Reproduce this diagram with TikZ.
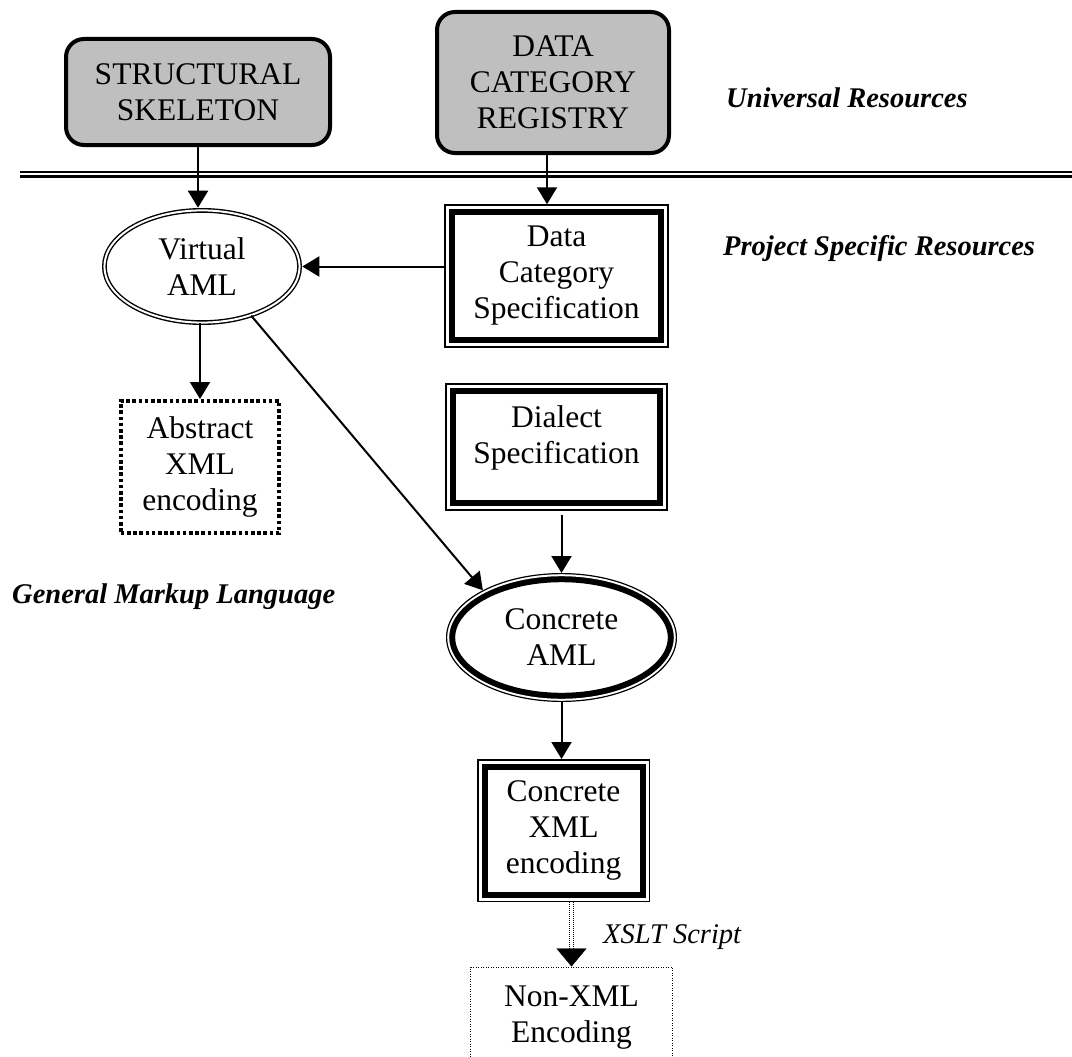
\documentclass[tikz,border=0pt]{standalone}
\usepackage{fontspec}
\setmainfont{Liberation Serif}
\usetikzlibrary{arrows.meta}
\usetikzlibrary{shapes.geometric}
\usetikzlibrary{calc}

\begin{document}
\begin{tikzpicture}[x=1pt, y=-1pt,
    txt/.style={align=center, inner sep=0pt, font=\fontsize{31.5}{36}\selectfont},
    lbl/.style={anchor=base west, inner sep=0pt, font=\fontsize{28.5}{34}\selectfont\bfseries\itshape},
    arr/.style={line width=2pt, -{Triangle[width=20pt, length=17pt]}},
    resbox/.style={txt, draw, line width=4pt, rounded corners=18pt, fill=gray!50},
    specbox/.style={txt, draw, line width=1.5pt, path picture={
        \draw[line width=19.5pt] (path picture bounding box.south west) rectangle (path picture bounding box.north east);
        \draw[white, line width=7.5pt] (path picture bounding box.south west) rectangle (path picture bounding box.north east);}},
    amlring/.style={txt, ellipse, draw, line width=1.2pt, path picture={
        \draw[line width=17.2pt] let \p1=(path picture bounding box.north east), \p2=(path picture bounding box.center) in (\p2) ellipse ({\x1-\x2} and {\y1-\y2});
        \draw[white, line width=5.2pt] let \p1=(path picture bounding box.north east), \p2=(path picture bounding box.center) in (\p2) ellipse ({\x1-\x2} and {\y1-\y2});}},
    amldouble/.style={txt, ellipse, draw, double, line width=1.4pt, double distance=2pt},
    absbox/.style={txt, draw, line width=3.6pt, dash pattern=on 3.6pt off 2.6pt},
    encbox/.style={txt, draw, line width=1pt, dash pattern=on 1pt off 1.5pt},
    xslt/.style={draw, double, line width=1pt, double distance=2.5pt, dash pattern=on 1pt off 1pt},
    sep/.style={draw, double, line width=2.5pt, double distance=2pt}]

    \useasboundingbox (0,0) rectangle (1072,1057);

    \node[resbox, minimum width=264, minimum height=106] (skel) at (198,92) {STRUCTURAL\\SKELETON};
    \node[resbox, minimum width=232, minimum height=141] (dcr) at (553,82.5) {DATA\\CATEGORY\\REGISTRY};

    \coordinate (sepL) at (20,174);
    \coordinate (sepR) at (1072,174);
    \draw[sep] (sepL) -- (sepR);

    \node[amldouble, minimum width=195.2, minimum height=112.2] (virt) at (202,266.5) {Virtual\\AML};
    \node[specbox, minimum width=223, minimum height=142] (dcs) at (556.5,276) {Data\\Category\\Specification};
    \node[absbox, minimum width=158.4, minimum height=132.4] (abs) at (200,467) {Abstract\\XML\\encoding};
    \node[specbox, minimum width=221, minimum height=126, text depth=25pt] (dia) at (556.5,447) {Dialect\\Specification};
    \node[amlring, minimum width=229.8, minimum height=127.8] (caml) at (561.5,637.5) {Concrete\\AML};
    \node[specbox, minimum width=171.5, minimum height=141.5] (cxml) at (563.5,830.5) {Concrete\\XML\\encoding};
    \node[encbox, minimum width=202, minimum height=102] (nonxml) at (571.5,1018) {Non-XML\\Encoding};

    \node[lbl] (univ) at (726,108) {Universal Resources};
    \node[lbl] (proj) at (723,255) {Project Specific Resources};
    \node[lbl] (gml) at (12,603) {General Markup Language};
    \node[anchor=base west, inner sep=0pt, font=\fontsize{28.5}{34}\selectfont\itshape] (xsltlbl) at (603,943) {XSLT Script};

    \draw[arr, shorten >=2pt] (skel.south) -- (skel.south |- virt.north);
    \draw[arr] ([xshift=-6pt]dcr.south) -- ([xshift=-6pt]dcr.south |- dcs.north);
    \draw[arr, shorten >=2pt] (dcs.west |- virt.east) -- (virt.east);
    \draw[arr] (virt.south -| abs.north) -- (abs.north);
    \draw[arr] (virt.-45) -- (caml.149);
    \draw[arr, shorten <=4pt] (dia.south -| caml.north) -- (caml.north);
    \draw[arr] (caml.south) -- (caml.south |- cxml.north);
    \draw[xslt] (cxml.south -| nonxml.north) -- ([yshift=18pt]nonxml.north);
    \draw[-{Triangle[width=30pt, length=18pt]}] ([yshift=18pt]nonxml.north) -- (nonxml.north);
\end{tikzpicture}
\end{document}
